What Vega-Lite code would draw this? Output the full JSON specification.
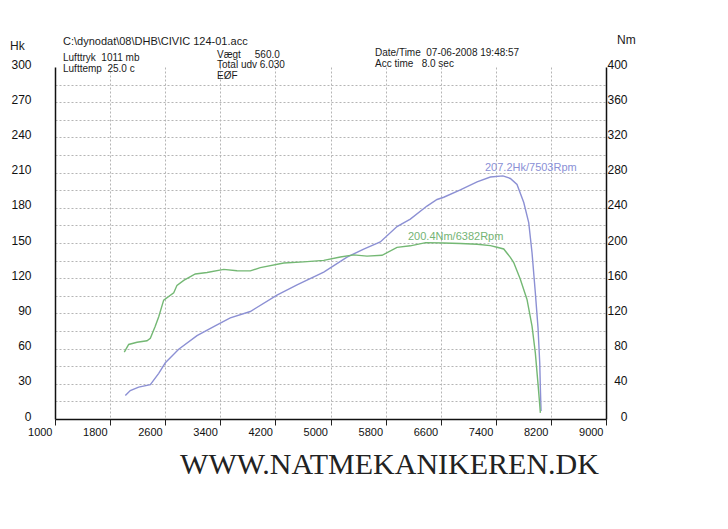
{
  "$schema": "https://vega.github.io/schema/vega-lite/v6.json",
  "width": 551,
  "height": 352,
  "autosize": {"type": "none"},
  "padding": {"left": 55, "top": 67, "right": 122, "bottom": 110},
  "background": "white",
  "config": {"view": {"stroke": null}, "font": "Liberation Sans"},
  "title": {
    "text": "WWW.NATMEKANIKEREN.DK",
    "orient": "bottom",
    "anchor": "middle",
    "font": "Liberation Serif",
    "fontSize": 30,
    "fontWeight": "normal",
    "color": "#222222",
    "offset": 13,
    "dx": 59
  },
  "datasets": {
    "hp": [
      {"rpm": 2021, "hk": 20.1}, {"rpm": 2093, "hk": 24.3}, {"rpm": 2215, "hk": 27.2},
      {"rpm": 2384, "hk": 29.3}, {"rpm": 2506, "hk": 38.9}, {"rpm": 2602, "hk": 47.9},
      {"rpm": 2796, "hk": 59.4}, {"rpm": 3062, "hk": 71.1}, {"rpm": 3352, "hk": 80.2},
      {"rpm": 3545, "hk": 86.2}, {"rpm": 3836, "hk": 91.6}, {"rpm": 4223, "hk": 105.5},
      {"rpm": 4514, "hk": 114.3}, {"rpm": 4902, "hk": 125.2}, {"rpm": 5240, "hk": 138.0},
      {"rpm": 5482, "hk": 144.7}, {"rpm": 5723, "hk": 150.9}, {"rpm": 5966, "hk": 164.0},
      {"rpm": 6159, "hk": 170.4}, {"rpm": 6401, "hk": 181.5}, {"rpm": 6547, "hk": 187.1},
      {"rpm": 6644, "hk": 189.0}, {"rpm": 6885, "hk": 195.3}, {"rpm": 7128, "hk": 202.1},
      {"rpm": 7321, "hk": 206.2}, {"rpm": 7503, "hk": 207.2}, {"rpm": 7611, "hk": 205.0},
      {"rpm": 7708, "hk": 199.9}, {"rpm": 7806, "hk": 184.5}, {"rpm": 7878, "hk": 167.3},
      {"rpm": 7926, "hk": 141.7}, {"rpm": 7974, "hk": 107.6}, {"rpm": 8013, "hk": 77.7},
      {"rpm": 8038, "hk": 47.8}, {"rpm": 8047, "hk": 26.5}, {"rpm": 8057, "hk": 6.9}
    ],
    "nm": [
      {"rpm": 2006, "nm": 76.0}, {"rpm": 2070, "nm": 84.7}, {"rpm": 2191, "nm": 87.2},
      {"rpm": 2336, "nm": 88.9}, {"rpm": 2384, "nm": 91.7}, {"rpm": 2454, "nm": 105.0},
      {"rpm": 2506, "nm": 116.3}, {"rpm": 2578, "nm": 135.1}, {"rpm": 2724, "nm": 143.3},
      {"rpm": 2771, "nm": 151.9}, {"rpm": 2869, "nm": 157.5}, {"rpm": 3037, "nm": 164.8},
      {"rpm": 3207, "nm": 166.5}, {"rpm": 3450, "nm": 170.0}, {"rpm": 3643, "nm": 168.5},
      {"rpm": 3836, "nm": 168.3}, {"rpm": 3981, "nm": 172.0}, {"rpm": 4321, "nm": 177.3},
      {"rpm": 4611, "nm": 178.6}, {"rpm": 4902, "nm": 180.2}, {"rpm": 5143, "nm": 184.1},
      {"rpm": 5337, "nm": 186.5}, {"rpm": 5530, "nm": 185.1}, {"rpm": 5748, "nm": 186.0},
      {"rpm": 5966, "nm": 195.1}, {"rpm": 6159, "nm": 196.8}, {"rpm": 6382, "nm": 200.4},
      {"rpm": 6644, "nm": 200.0}, {"rpm": 6885, "nm": 199.5}, {"rpm": 7128, "nm": 198.5},
      {"rpm": 7321, "nm": 197.0}, {"rpm": 7418, "nm": 195.2}, {"rpm": 7515, "nm": 193.2},
      {"rpm": 7611, "nm": 183.6}, {"rpm": 7660, "nm": 177.8}, {"rpm": 7756, "nm": 158.8},
      {"rpm": 7853, "nm": 135.9}, {"rpm": 7926, "nm": 105.6}, {"rpm": 7974, "nm": 75.2},
      {"rpm": 8009, "nm": 43.3}, {"rpm": 8032, "nm": 21.7}, {"rpm": 8047, "nm": 6.9}
    ]
  },
  "layer": [
    {
      "data": {"name": "hp"},
      "mark": {"type": "line", "color": "#8c90d4", "strokeWidth": 1.4},
      "encoding": {
        "x": {
          "field": "rpm", "type": "quantitative",
          "scale": {"domain": [1000, 9000], "nice": false, "zero": false},
          "axis": {
            "values": [1000,1400,1800,2200,2600,3000,3400,3800,4200,4600,5000,5400,5800,6200,6600,7000,7400,7800,8200,8600,9000],
            "format": "d",
            "labelExpr": "(datum.value - 1000) % 800 == 0 ? datum.label : ''",
            "title": null,
            "grid": true,
            "gridColor": "#b5b5b5",
            "gridDash": [2, 2],
            "gridOpacity": {"condition": {"test": "datum.value > 1000 && datum.value < 9000", "value": 1}, "value": 0},
            "tickOpacity": {"condition": {"test": "(datum.value - 1000) % 800 == 0", "value": 1}, "value": 0},
            "tickColor": "#222222",
            "tickSize": 6,
            "tickWidth": 1,
            "domainColor": "#111111",
            "domainWidth": 1.5,
            "labelAlign": "right",
            "labelOffset": -3,
            "labelPadding": 1,
            "labelFontSize": 11,
            "labelColor": "#111111",
            "labelFlush": false,
            "labelOverlap": false,
            "labelBound": false
          }
        },
        "y": {
          "field": "hk", "type": "quantitative",
          "scale": {"domain": [0, 300], "nice": false},
          "axis": {
            "orient": "left",
            "values": [0,15,30,45,60,75,90,105,120,135,150,165,180,195,210,225,240,255,270,285,300],
            "labelExpr": "datum.value % 30 == 0 ? datum.label : ''",
            "title": null,
            "ticks": false,
            "tickSize": 0,
            "labelPadding": 24,
            "labelOffset": -3,
            "labelFontSize": 12,
            "labelColor": "#111111",
            "grid": true,
            "gridColor": "#b5b5b5",
            "gridDash": [2, 2],
            "gridOpacity": {"condition": {"test": "datum.value > 0 && datum.value < 300", "value": 1}, "value": 0},
            "domainColor": "#111111",
            "domainWidth": 1.5,
            "labelOverlap": false
          }
        }
      }
    },
    {
      "data": {"name": "nm"},
      "mark": {"type": "line", "color": "#74b874", "strokeWidth": 1.4},
      "encoding": {
        "x": {"field": "rpm", "type": "quantitative"},
        "y": {
          "field": "nm", "type": "quantitative",
          "scale": {"domain": [0, 400], "nice": false},
          "axis": {
            "orient": "right",
            "values": [0,40,80,120,160,200,240,280,320,360,400],
            "title": null,
            "grid": false,
            "ticks": false,
            "tickSize": 0,
            "labelAlign": "right",
            "labelPadding": 21,
            "labelOffset": -3,
            "labelFontSize": 12,
            "labelColor": "#111111",
            "domainColor": "#111111",
            "domainWidth": 1.5,
            "labelOverlap": false
          }
        }
      }
    },
    {
      "data": {"values": [{}]},
      "mark": {"type": "text", "align": "left", "baseline": "middle", "fontSize": 11, "color": "#1a1a1a"},
      "encoding": {
        "x": {"datum": 1116, "type": "quantitative"},
        "y": {"datum": 321.7, "type": "quantitative", "axis": null, "scale": {"domain": [0, 300], "nice": false}},
        "text": {"value": "C:\\dynodat\\08\\DHB\\CIVIC 124-01.acc"}
      }
    },
    {
      "data": {"values": [{}]},
      "mark": {"type": "text", "align": "left", "baseline": "middle", "fontSize": 10, "color": "#1a1a1a"},
      "encoding": {
        "x": {"datum": 1116, "type": "quantitative"},
        "y": {"datum": 307.7, "type": "quantitative", "axis": null, "scale": {"domain": [0, 300], "nice": false}},
        "text": {"value": "Lufttryk\u00a0\u00a01011 mb"}
      }
    },
    {
      "data": {"values": [{}]},
      "mark": {"type": "text", "align": "left", "baseline": "middle", "fontSize": 10, "color": "#1a1a1a"},
      "encoding": {
        "x": {"datum": 1116, "type": "quantitative"},
        "y": {"datum": 298.7, "type": "quantitative", "axis": null, "scale": {"domain": [0, 300], "nice": false}},
        "text": {"value": "Lufttemp\u00a0\u00a025.0 c"}
      }
    },
    {
      "data": {"values": [{}]},
      "mark": {"type": "text", "align": "left", "baseline": "middle", "fontSize": 10, "color": "#1a1a1a"},
      "encoding": {
        "x": {"datum": 3352, "type": "quantitative"},
        "y": {"datum": 310.2, "type": "quantitative", "axis": null, "scale": {"domain": [0, 300], "nice": false}},
        "text": {"value": "Vægt\u00a0\u00a0\u00a0\u00a0\u00a0560.0"}
      }
    },
    {
      "data": {"values": [{}]},
      "mark": {"type": "text", "align": "left", "baseline": "middle", "fontSize": 10, "color": "#1a1a1a"},
      "encoding": {
        "x": {"datum": 3352, "type": "quantitative"},
        "y": {"datum": 301.3, "type": "quantitative", "axis": null, "scale": {"domain": [0, 300], "nice": false}},
        "text": {"value": "Total udv 6.030"}
      }
    },
    {
      "data": {"values": [{}]},
      "mark": {"type": "text", "align": "left", "baseline": "middle", "fontSize": 10, "color": "#1a1a1a"},
      "encoding": {
        "x": {"datum": 3352, "type": "quantitative"},
        "y": {"datum": 292.3, "type": "quantitative", "axis": null, "scale": {"domain": [0, 300], "nice": false}},
        "text": {"value": "EØF"}
      }
    },
    {
      "data": {"values": [{}]},
      "mark": {"type": "text", "align": "left", "baseline": "middle", "fontSize": 10, "color": "#1a1a1a"},
      "encoding": {
        "x": {"datum": 5646, "type": "quantitative"},
        "y": {"datum": 311.9, "type": "quantitative", "axis": null, "scale": {"domain": [0, 300], "nice": false}},
        "text": {"value": "Date/Time\u00a0\u00a007-06-2008 19:48:57"}
      }
    },
    {
      "data": {"values": [{}]},
      "mark": {"type": "text", "align": "left", "baseline": "middle", "fontSize": 10, "color": "#1a1a1a"},
      "encoding": {
        "x": {"datum": 5646, "type": "quantitative"},
        "y": {"datum": 302.6, "type": "quantitative", "axis": null, "scale": {"domain": [0, 300], "nice": false}},
        "text": {"value": "Acc time\u00a0\u00a0\u00a08.0 sec"}
      }
    },
    {
      "data": {"values": [{}]},
      "mark": {"type": "text", "align": "left", "baseline": "middle", "fontSize": 12, "color": "#1a1a1a"},
      "encoding": {
        "x": {"datum": 347, "type": "quantitative"},
        "y": {"datum": 317.5, "type": "quantitative", "axis": null, "scale": {"domain": [0, 300], "nice": false}},
        "text": {"value": "Hk"}
      }
    },
    {
      "data": {"values": [{}]},
      "mark": {"type": "text", "align": "left", "baseline": "middle", "fontSize": 12, "color": "#1a1a1a"},
      "encoding": {
        "x": {"datum": 9160, "type": "quantitative"},
        "y": {"datum": 323.4, "type": "quantitative", "axis": null, "scale": {"domain": [0, 300], "nice": false}},
        "text": {"value": "Nm"}
      }
    },
    {
      "data": {"values": [{}]},
      "mark": {"type": "text", "align": "left", "baseline": "middle", "fontSize": 11, "color": "#8a90d6"},
      "encoding": {
        "x": {"datum": 7243, "type": "quantitative"},
        "y": {"datum": 213.5, "type": "quantitative", "axis": null, "scale": {"domain": [0, 300], "nice": false}},
        "text": {"value": "207.2Hk/7503Rpm"}
      }
    },
    {
      "data": {"values": [{}]},
      "mark": {"type": "text", "align": "left", "baseline": "middle", "fontSize": 11, "color": "#74b474"},
      "encoding": {
        "x": {"datum": 6125, "type": "quantitative"},
        "y": {"datum": 155.5, "type": "quantitative", "axis": null, "scale": {"domain": [0, 300], "nice": false}},
        "text": {"value": "200.4Nm/6382Rpm"}
      }
    }
  ],
  "resolve": {"scale": {"y": "independent"}}
}
